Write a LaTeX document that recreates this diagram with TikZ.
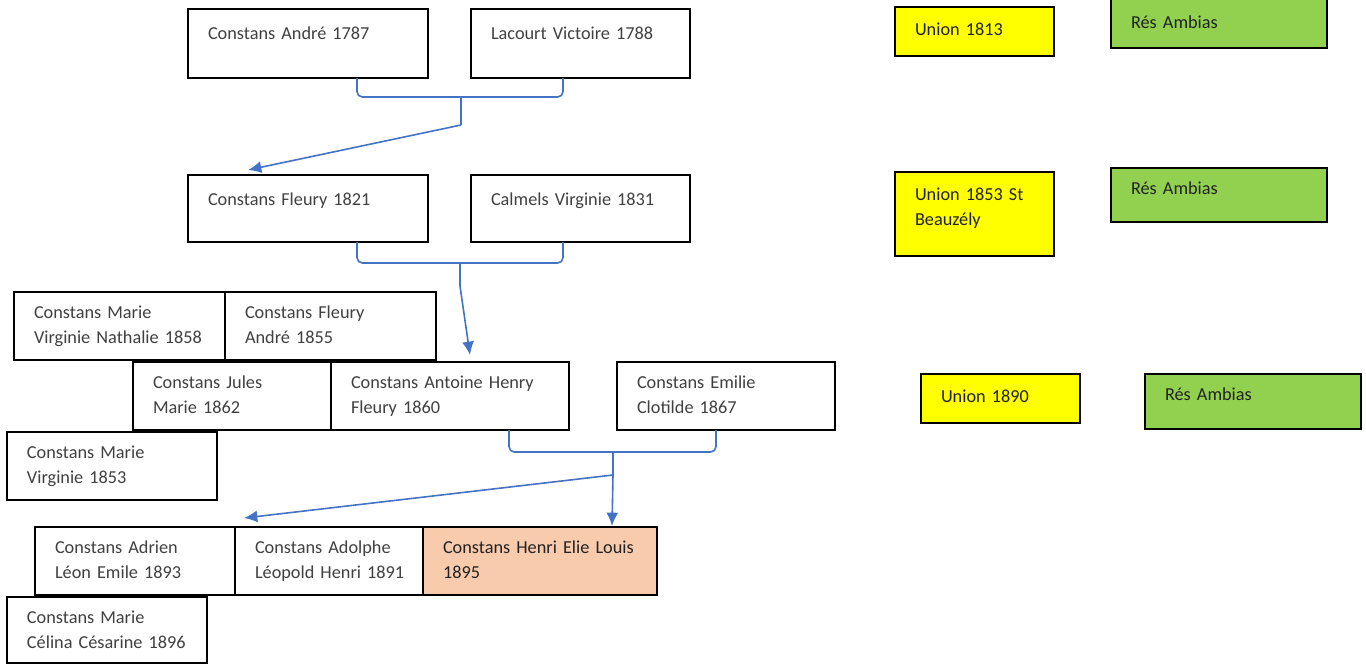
\documentclass[tikz,border=0pt]{standalone}
\usepackage{fontspec}
\setmainfont{Carlito}
\usetikzlibrary{arrows.meta,positioning,calc}
\definecolor{ink}{HTML}{404040}
\definecolor{inkdark}{HTML}{222222}
\definecolor{union}{HTML}{FFFF00}
\definecolor{resid}{HTML}{92D050}
\definecolor{self}{HTML}{F8CBAD}
\definecolor{link}{HTML}{4472C4}
\tikzset{
  >=Latex,
  every node/.style={font=\fontsize{13.7}{18.75}\selectfont,text=ink},
  box/.style={draw=black,line width=1.3pt,fill=white,anchor=north west,inner sep=0pt,outer sep=0pt,align=left,text height=20pt,text depth=31pt,execute at begin node={\leftskip=15pt\relax}},
  topbox/.style={box,text height=22.5pt},
  selfbox/.style={box,fill=self,text=inkdark},
  unionbox/.style={box,fill=union,text=inkdark,text width=119.25pt,text height=21pt,text depth=15.75pt},
  resbox/.style={box,fill=resid,text=inkdark,text width=162pt},
  joinline/.style={draw=link,line width=1.2pt,rounded corners=4pt},
  arrow/.style={-{Latex[length=10pt,width=9pt]},draw=link,line width=1.2pt},
}

\begin{document}
\begin{tikzpicture}[x=0.75pt,y=-0.75pt]
\useasboundingbox (0,0) rectangle (1366,664);

% --- parents
\node[topbox,text width=180pt,text depth=29.25pt] (andre) at (188,9) {Constans André 1787};
\node[topbox,text width=164.25pt,text depth=29.25pt] (lacourt) at (471,9) {Lacourt Victoire 1788};

% --- second generation
\node[topbox,text width=180pt,text depth=27.75pt] (fleury) at (188,175) {Constans Fleury 1821};
\node[topbox,text width=164.25pt,text depth=27.75pt] (calmels) at (471,175) {Calmels Virginie 1831};

% --- children of Fleury
\node[box,text width=158.25pt] (nathalie) at (14,292) {Constans Marie\\Virginie Nathalie 1858};
\node[box,text width=158.25pt,right=0pt of nathalie] (fandre) {Constans Fleury\\André 1855};
\node[box,text width=148.5pt] (jules) at (133,362) {Constans Jules\\Marie 1862};
\node[box,text width=178.5pt,right=0pt of jules] (antoine) {Constans Antoine Henry\\Fleury 1860};
\node[box,text width=163.5pt] (emilie) at (617,362) {Constans Emilie\\Clotilde 1867};
\node[box,text width=157.5pt] (mvirginie) at (7,432) {Constans Marie\\Virginie 1853};

% --- children of Antoine
\node[box,text width=150pt] (adrien) at (35,527) {Constans Adrien\\Léon Emile 1893};
\node[box,text width=141pt,right=0pt of adrien] (adolphe) {Constans Adolphe\\Léopold Henri 1891};
\node[selfbox,text width=175.5pt,right=0pt of adolphe] (henri) {Constans Henri Elie Louis\\1895};
\node[box,text width=150pt,text depth=29.5pt] (celina) at (7,597) {Constans Marie\\Célina Césarine 1896};

% --- unions and residence
\node[unionbox] (u1813) at (895,7) {Union 1813};
\node[resbox,text height=23pt,text depth=14.5pt] (res1) at (1111,-2) {Rés Ambias};
\node[unionbox,text depth=42pt] (u1853) at (895,172) {Union 1853 St\\Beauzély};
\node[resbox,text depth=20.5pt] (res2) at (1111,168) {Rés Ambias};
\node[unionbox] (u1890) at (921,374) {Union 1890};
\node[resbox,text depth=21.25pt] (res3) at (1145,374) {Rés Ambias};

% --- links
\coordinate (m1) at (461,97);
\coordinate (j1) at (461,125);
\draw[joinline] ($(andre.south west)+(169,0)$) |- ($(m1)+(-6,0)$) .. controls (m1) .. ($(m1)+(0,6)$) -- (j1);
\draw[joinline] ($(lacourt.south west)+(92,0)$) |- ($(m1)+(6,0)$) .. controls (m1) .. ($(m1)+(0,6)$);
\draw[arrow] (j1) -- ($(fleury.north)+(-60,-5)$);

\coordinate (m2) at (460,263);
\coordinate (j2) at (460,286);
\draw[joinline] ($(fleury.south west)+(169,0)$) |- ($(m2)+(-6,0)$) .. controls (m2) .. ($(m2)+(0,6)$) -- (j2);
\draw[joinline] ($(calmels.south west)+(92,0)$) |- ($(m2)+(6,0)$) .. controls (m2) .. ($(m2)+(0,6)$);
\draw[arrow] (j2) -- ($(antoine.north)+(20,-7)$);

\coordinate (m3) at (613,452);
\coordinate (j3) at (613,475);
\draw[joinline] ($(antoine.south west)+(178,0)$) |- ($(m3)+(-6,0)$) .. controls (m3) .. ($(m3)+(0,6)$) -- (j3);
\draw[joinline] ($(emilie.south west)+(99,0)$) |- ($(m3)+(6,0)$) .. controls (m3) .. ($(m3)+(0,6)$);
\draw[arrow] (j3) -- ($(adrien.north east)+(9,-9)$);
\draw[arrow] (j3) -- ($(henri.north)+(72,-1)$);

\end{tikzpicture}
\end{document}
